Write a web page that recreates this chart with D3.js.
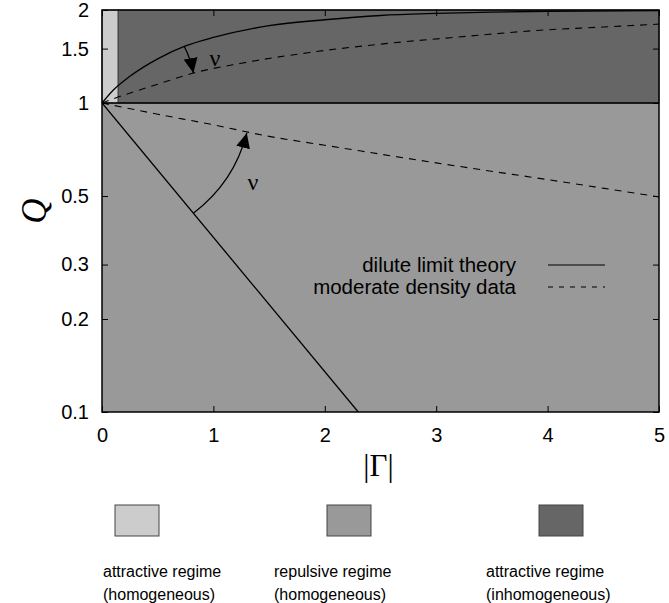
<!DOCTYPE html>
<html>
<head>
<meta charset="utf-8">
<script src="https://cdn.jsdelivr.net/npm/d3@7"></script>
<style>
  body { margin: 0; background: #fff; }
  svg text { font-family: "Liberation Sans", Arial, sans-serif; }
</style>
</head>
<body>
<div id="chart"></div>
<script>
// axis ticks
const xTicks = [0, 1, 2, 3, 4, 5];
const yTicks = [0.1, 0.2, 0.3, 0.5, 1, 1.5, 2];

// regime boundaries (|Gamma| and Q)
const stripEnd = 0.145;
const qSplit = 1;

// dilute limit theory, upper branch
const theoryUpperG = [0, 0.1, 0.25, 0.5, 0.75, 1, 1.5, 2, 2.5, 3, 3.5, 4, 5];
const theoryUpperQ = [1, 1.10, 1.22, 1.39, 1.53, 1.63, 1.78, 1.86, 1.92, 1.95, 1.97, 1.98, 1.99];
// dilute limit theory, lower branch
const theoryLowerG = [0, 2.3];
const theoryLowerQ = [1, 0.1];
// moderate density data, upper branch
const dataUpperG = [0, 0.15, 0.5, 0.82, 1.25, 1.85, 2.68, 3.3, 3.87, 4.5, 5];
const dataUpperQ = [1, 1.047, 1.15, 1.25, 1.345, 1.455, 1.574, 1.647, 1.714, 1.762, 1.80];
// moderate density data, lower branch
const dataLowerG = [0, 0.5, 1, 1.5, 2, 3, 4, 5];
const dataLowerQ = [1, 0.92, 0.85, 0.78, 0.73, 0.64, 0.565, 0.497];

// angle arrows: [from, to] in (|Gamma|, Q)
const arcUpper = [[0.74, 1.52], [0.82, 1.25]];
const arcLower = [[0.82, 0.44], [1.30, 0.80]];

const lineNames = ["dilute limit theory", "moderate density data"];
const regimeNames = [
  ["attractive regime", "(homogeneous)"],
  ["repulsive regime", "(homogeneous)"],
  ["attractive regime", "(inhomogeneous)"]
];

const W = 669, H = 603;
const L = 102, R = 659, T = 10, B = 412;

const svg = d3.select("#chart").append("svg")
  .attr("width", W).attr("height", H);

const x = d3.scaleLinear().domain([0, 5]).range([L, R]);
const y = d3.scaleLog().domain([0.1, 2]).range([B, T]);

const cLight = "#cccccc", cMid = "#999999", cDark = "#666666";

// regimes
svg.append("rect")
  .attr("x", x(0)).attr("y", y(2))
  .attr("width", x(5) - x(0)).attr("height", y(0.1) - y(2))
  .attr("fill", cMid);
svg.append("rect")
  .attr("x", x(0)).attr("y", y(2))
  .attr("width", x(stripEnd) - x(0)).attr("height", y(qSplit) - y(2))
  .attr("fill", cLight).attr("stroke", "#333").attr("stroke-width", 0.8);
svg.append("rect")
  .attr("x", x(stripEnd)).attr("y", y(2))
  .attr("width", x(5) - x(stripEnd)).attr("height", y(qSplit) - y(2))
  .attr("fill", cDark).attr("stroke", "#333").attr("stroke-width", 0.8);
svg.append("line")
  .attr("x1", x(0)).attr("x2", x(5))
  .attr("y1", y(qSplit)).attr("y2", y(qSplit))
  .attr("stroke", "#000").attr("stroke-width", 1.5);

svg.append("clipPath").attr("id", "plotclip")
  .append("rect").attr("x", L).attr("y", T).attr("width", R - L).attr("height", B - T);

const line = d3.line()
  .x(d => x(d[0])).y(d => y(d[1]))
  .curve(d3.curveMonotoneX);

const zipPts = (g, q) => g.map((v, i) => [v, q[i]]);

const curves = svg.append("g").attr("clip-path", "url(#plotclip)");
[[theoryUpperG, theoryUpperQ], [theoryLowerG, theoryLowerQ]].forEach(s => {
  curves.append("path")
    .attr("d", line(zipPts(s[0], s[1])))
    .attr("fill", "none").attr("stroke", "#000").attr("stroke-width", 1.3);
});
[[dataUpperG, dataUpperQ], [dataLowerG, dataLowerQ]].forEach(s => {
  curves.append("path")
    .attr("d", line(zipPts(s[0], s[1])))
    .attr("fill", "none").attr("stroke", "#000").attr("stroke-width", 1.1)
    .attr("stroke-dasharray", "7,6");
});

// arrow marker
svg.append("defs").append("marker")
  .attr("id", "head")
  .attr("viewBox", "-15 -7 15 14")
  .attr("refX", 0).attr("refY", 0)
  .attr("markerWidth", 15).attr("markerHeight", 14)
  .attr("markerUnits", "userSpaceOnUse")
  .attr("orient", "auto")
  .append("path").attr("d", "M0,0L-15,-7L-15,7Z").attr("fill", "#000");

function angleArc(pts, sweep) {
  const cx = x(0), cy = y(1);
  const p = pts.map(d => [x(d[0]), y(d[1])]);
  const r = d3.mean(p, d => Math.hypot(d[0] - cx, d[1] - cy));
  svg.append("path")
    .attr("d", `M${p[0][0]},${p[0][1]}A${r},${r} 0 0 ${sweep} ${p[1][0]},${p[1][1]}`)
    .attr("fill", "none").attr("stroke", "#000").attr("stroke-width", 1.3)
    .attr("marker-end", "url(#head)");
}
angleArc(arcUpper, 1);
angleArc(arcLower, 0);

svg.append("text").attr("x", 215).attr("y", 66)
  .attr("text-anchor", "middle")
  .style("font-family", "'Liberation Serif', serif")
  .style("font-size", "24px").text("ν");
svg.append("text").attr("x", 253).attr("y", 190)
  .attr("text-anchor", "middle")
  .style("font-family", "'Liberation Serif', serif")
  .style("font-size", "24px").text("ν");

// frame
svg.append("rect")
  .attr("x", L).attr("y", T).attr("width", R - L).attr("height", B - T)
  .attr("fill", "none").attr("stroke", "#000").attr("stroke-width", 1.5);

// axes
const fmt = d => String(d);
function styleAxis(g) {
  g.select(".domain").remove();
  g.selectAll(".tick line").attr("stroke", "#000").attr("stroke-width", 1);
  g.selectAll(".tick text").attr("fill", "#000").style("font-size", "20px");
}
svg.append("g").attr("transform", `translate(0,${B})`)
  .call(d3.axisBottom(x).tickValues(xTicks).tickFormat(fmt).tickSizeInner(-6).tickSizeOuter(0).tickPadding(16))
  .call(styleAxis);
svg.append("g").attr("transform", `translate(0,${T})`)
  .call(d3.axisTop(x).tickValues(xTicks).tickFormat("").tickSizeInner(-6).tickSizeOuter(0))
  .call(styleAxis);
svg.append("g").attr("transform", `translate(${L},0)`)
  .call(d3.axisLeft(y).tickValues(yTicks).tickFormat(fmt).tickSizeInner(-6).tickSizeOuter(0).tickPadding(13))
  .call(styleAxis);
svg.append("g").attr("transform", `translate(${R},0)`)
  .call(d3.axisRight(y).tickValues(yTicks).tickFormat("").tickSizeInner(-6).tickSizeOuter(0))
  .call(styleAxis);

// axis titles
svg.append("text").attr("x", (L + R) / 2 - 2).attr("y", 476)
  .attr("text-anchor", "middle")
  .style("font-family", "'Liberation Serif', 'DejaVu Serif', serif")
  .style("font-size", "31px").text("|Γ|");
svg.append("text")
  .attr("transform", `translate(46,${(T + B) / 2}) rotate(-90)`)
  .attr("text-anchor", "middle")
  .style("font-family", "'Liberation Serif', 'DejaVu Serif', serif")
  .style("font-style", "italic")
  .style("font-size", "35px").text("Q");

// line legend
lineNames.forEach((name, i) => {
  const ly = 265 + i * 22;
  svg.append("text").attr("x", 516).attr("y", ly + 7)
    .attr("text-anchor", "end").style("font-size", "20.5px").text(name);
  svg.append("line")
    .attr("x1", 548).attr("x2", 605).attr("y1", ly).attr("y2", ly)
    .attr("stroke", "#000").attr("stroke-width", 1.1)
    .attr("stroke-dasharray", i === 0 ? null : "5,6");
});

// regime legend
const boxX = [115, 327, 539];
const textX = [103, 274, 486];
[cLight, cMid, cDark].forEach((c, i) => {
  svg.append("rect")
    .attr("x", boxX[i]).attr("y", 505).attr("width", 44).attr("height", 31)
    .attr("fill", c).attr("stroke", "#444").attr("stroke-width", 1);
  regimeNames[i].forEach((t, j) => {
    svg.append("text").attr("x", textX[i]).attr("y", 577 + j * 23)
      .style("font-size", "16px").text(t);
  });
});
</script>
</body>
</html>
